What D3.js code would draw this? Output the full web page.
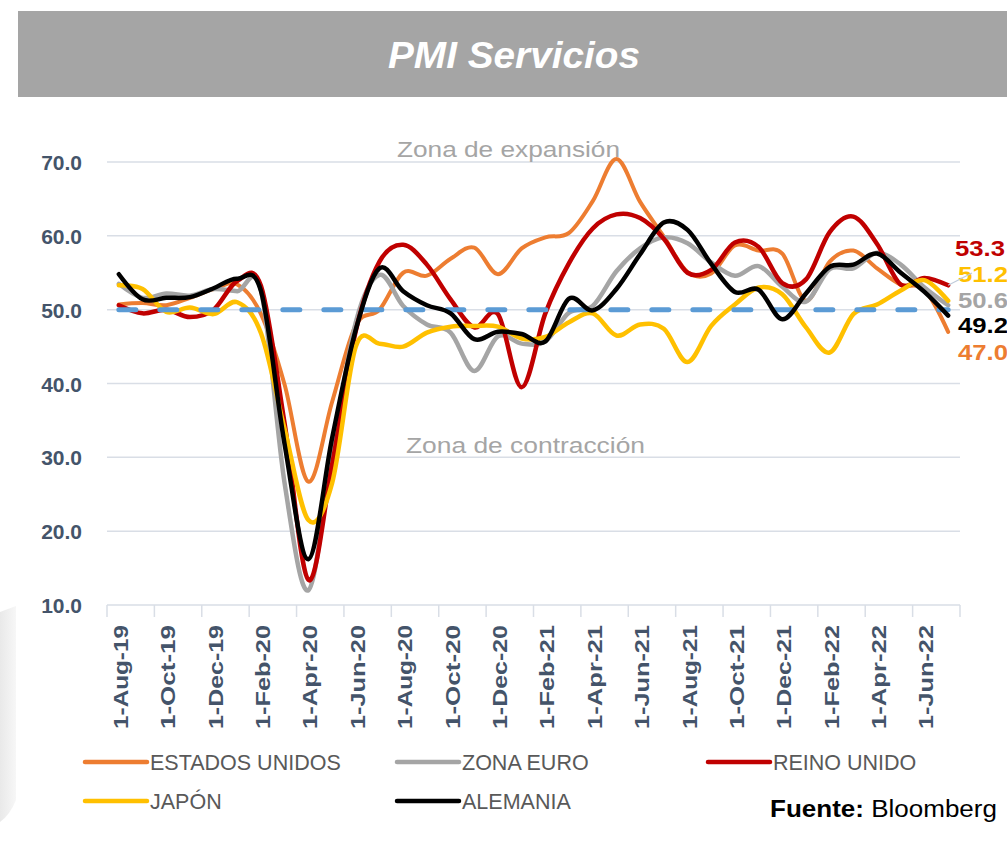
<!DOCTYPE html>
<html>
<head>
<meta charset="utf-8">
<script src="https://cdn.jsdelivr.net/npm/d3@7"></script>
<style>
  html, body { margin: 0; padding: 0; background: #ffffff; }
  svg { display: block; }
</style>
</head>
<body>
<div id="chart"></div>
<script>
// PMI Servicios (Bloomberg) - meses Aug-19 .. Jul-22
const months = [
  "1-Aug-19","1-Sep-19","1-Oct-19","1-Nov-19","1-Dec-19","1-Jan-20","1-Feb-20","1-Mar-20","1-Apr-20","1-May-20","1-Jun-20","1-Jul-20",
  "1-Aug-20","1-Sep-20","1-Oct-20","1-Nov-20","1-Dec-20","1-Jan-21","1-Feb-21","1-Mar-21","1-Apr-21","1-May-21","1-Jun-21","1-Jul-21",
  "1-Aug-21","1-Sep-21","1-Oct-21","1-Nov-21","1-Dec-21","1-Jan-22","1-Feb-22","1-Mar-22","1-Apr-22","1-May-22","1-Jun-22","1-Jul-22"
];

const estadosUnidos = [50.7,50.9,50.6,51.6,52.8,53.4,49.4,39.8,26.7,37.5,47.9,50.0,
  55.0,54.6,56.9,58.4,54.8,58.3,59.8,60.4,64.7,70.4,64.6,59.9,
  55.1,54.9,58.7,58.0,57.6,51.2,56.5,58.0,55.6,53.4,52.7,47.0];
const zonaEuro = [53.5,51.6,52.2,51.9,52.8,52.5,52.6,26.4,12.0,30.5,48.3,54.7,
  50.5,48.0,46.9,41.7,46.4,45.4,45.7,49.6,50.5,55.2,58.3,59.8,
  59.0,56.4,54.6,55.9,53.1,51.1,55.5,55.6,57.7,56.1,53.0,50.6];
const reinoUnido = [50.6,49.5,50.0,49.0,50.0,53.9,53.2,34.5,13.4,29.0,47.1,56.5,
  58.8,56.1,51.4,47.6,49.4,39.5,49.5,56.3,61.0,62.9,62.4,59.6,
  55.0,55.4,59.1,58.5,53.6,54.1,60.5,62.6,58.9,53.4,54.3,53.3];
const japon = [53.3,52.8,49.7,50.3,49.4,51.0,46.8,33.8,21.5,26.5,45.0,45.4,
  45.0,46.9,47.7,47.8,47.7,46.1,46.3,48.3,49.5,46.5,48.0,47.4,
  42.9,47.8,50.7,53.0,52.1,47.6,44.2,49.4,50.7,52.6,54.0,51.2];
const alemania = [54.8,51.4,51.6,51.7,52.9,54.2,52.5,31.7,16.2,32.6,47.3,55.6,
  52.5,50.6,49.5,46.0,47.0,46.7,45.7,51.5,49.9,52.8,57.5,61.8,
  60.8,56.2,52.4,52.7,48.7,52.2,55.8,56.1,57.6,55.0,52.4,49.2];

const umbral = 50; // linea de 50 (expansion / contraccion)
const yTicks = [10, 20, 30, 40, 50, 60, 70];

const seriesNames = ["ESTADOS UNIDOS", "ZONA EURO", "REINO UNIDO", "JAPÓN", "ALEMANIA"];
const seriesValues = [estadosUnidos, zonaEuro, reinoUnido, japon, alemania];
const seriesColors = ["#ED7D31", "#A5A5A5", "#C00000", "#FFC000", "#000000"];

// --- tamaño ---
const width = 1007, height = 842;
const plot = { left: 107, right: 960, top: 162, bottom: 605 };

const svg = d3.select("#chart").append("svg")
  .attr("width", width)
  .attr("height", height)
  .style("font-family", "'Liberation Sans', Arial, sans-serif");

// sombra suave a la izquierda (decoracion de la diapositiva)
const grad = svg.append("defs").append("linearGradient")
  .attr("id", "shade").attr("x1", 0).attr("x2", 1);
grad.append("stop").attr("offset", 0).attr("stop-color", "#e9e9e9");
grad.append("stop").attr("offset", 1).attr("stop-color", "#f7f7f7");
svg.append("path")
  .attr("d", "M0,612 L16,606 L16,800 Q10,815 0,822 Z")
  .attr("fill", "url(#shade)");

// --- titulo ---
svg.append("rect")
  .attr("x", 18).attr("y", 11)
  .attr("width", width - 18).attr("height", 86)
  .attr("fill", "#A5A5A5");

svg.append("text")
  .attr("x", 514).attr("y", 68)
  .attr("text-anchor", "middle")
  .attr("textLength", 252)
  .attr("lengthAdjust", "spacingAndGlyphs")
  .style("font-size", "37px")
  .style("font-weight", "bold")
  .style("font-style", "italic")
  .style("fill", "#ffffff")
  .text("PMI Servicios");

// --- escalas ---
const x = d3.scaleBand()
  .domain(months)
  .range([plot.left, plot.right]);
const cx = m => x(m) + x.bandwidth() / 2;

const y = d3.scaleLinear()
  .domain([10, 70])
  .range([plot.bottom, plot.top]);

// lineas de cuadricula
svg.append("g")
  .selectAll("line")
  .data(yTicks)
  .join("line")
  .attr("x1", plot.left).attr("x2", plot.right)
  .attr("y1", d => y(d)).attr("y2", d => y(d))
  .attr("stroke", "#D9DEE6")
  .attr("stroke-width", 1.5);

// eje Y (solo etiquetas)
const yAxis = svg.append("g")
  .attr("transform", `translate(${plot.left - 25},0)`)
  .call(d3.axisLeft(y).tickValues(yTicks).tickFormat(d3.format(".1f")).tickSize(0));
yAxis.select(".domain").remove();
yAxis.selectAll("text")
  .attr("x", 0)
  .attr("dy", "0.36em")
  .style("font-family", "'Liberation Sans', Arial, sans-serif")
  .style("font-size", "21px")
  .style("font-weight", "bold")
  .style("fill", "#44546A");

// eje X: marcas cada 2 meses
const tickMonths = months.filter((m, i) => i % 2 === 0);
svg.append("g")
  .selectAll("line")
  .data(tickMonths.map(m => x(m)).concat([plot.right]))
  .join("line")
  .attr("x1", d => d).attr("x2", d => d)
  .attr("y1", plot.bottom).attr("y2", plot.bottom + 12)
  .attr("stroke", "#D9DEE6")
  .attr("stroke-width", 1.5);

svg.append("g")
  .selectAll("text")
  .data(tickMonths)
  .join("text")
  .attr("transform", d => `translate(${cx(d) + 9},${plot.bottom + 20}) rotate(-90)`)
  .attr("text-anchor", "end")
  .attr("textLength", 104)
  .attr("lengthAdjust", "spacingAndGlyphs")
  .style("font-size", "21px")
  .style("font-weight", "bold")
  .style("fill", "#44546A")
  .text(d => d);

// zonas
svg.append("text")
  .attr("x", 397).attr("y", 157)
  .attr("textLength", 223)
  .attr("lengthAdjust", "spacingAndGlyphs")
  .style("font-size", "22px")
  .style("fill", "#A5A5A5")
  .text("Zona de expansión");

svg.append("text")
  .attr("x", 406).attr("y", 453)
  .attr("textLength", 239)
  .attr("lengthAdjust", "spacingAndGlyphs")
  .style("font-size", "22px")
  .style("fill", "#A5A5A5")
  .text("Zona de contracción");

// --- lineas suavizadas ---
const line = d3.line()
  .x((d, i) => cx(months[i]))
  .y(d => y(d))
  .curve(d3.curveCardinal.tension(0));

const lines = svg.append("g");
seriesValues.forEach((vals, s) => {
  if (s === 4) {
    // linea de 50 punteada antes de Alemania
    lines.append("path")
      .datum(months.map(() => umbral))
      .attr("d", line)
      .attr("fill", "none")
      .attr("stroke", "#5B9BD5")
      .attr("stroke-width", 5)
      .attr("stroke-linecap", "round")
      .attr("stroke-dasharray", "17 24");
  }
  lines.append("path")
    .datum(vals)
    .attr("d", line)
    .attr("fill", "none")
    .attr("stroke", seriesColors[s])
    .attr("stroke-width", s === 0 ? 4 : 4.5)
    .attr("stroke-linejoin", "round")
    .attr("stroke-linecap", "round");
});

// --- etiquetas del ultimo dato ---
const last = months[months.length - 1];
const labelOffsets = [20, -5, -37, -27, 10]; // separacion manual como en el original
const labelX = [958, 958, 955, 958, 958];
seriesValues.forEach((vals, s) => {
  const v = vals[vals.length - 1];
  svg.append("text")
    .attr("x", labelX[s])
    .attr("y", y(v) + labelOffsets[s])
    .attr("dy", "0.36em")
    .attr("textLength", 50)
    .attr("lengthAdjust", "spacingAndGlyphs")
    .style("font-size", "22px")
    .style("font-weight", "bold")
    .style("fill", seriesColors[s])
    .text(d3.format(".1f")(v));
});
// linea guia
svg.append("line")
  .attr("x1", cx(last)).attr("y1", y(reinoUnido[reinoUnido.length - 1]))
  .attr("x2", 972).attr("y2", 273)
  .attr("stroke", "#BFCBDA")
  .attr("stroke-width", 1.2);

// --- leyenda ---
const legendPos = [
  { x: 85, y: 762 }, { x: 397, y: 762 }, { x: 708, y: 762 },
  { x: 85, y: 801 }, { x: 397, y: 801 }
];
const legend = svg.append("g");
seriesNames.forEach((name, s) => {
  const p = legendPos[s];
  legend.append("line")
    .attr("x1", p.x).attr("x2", p.x + 62)
    .attr("y1", p.y).attr("y2", p.y)
    .attr("stroke", seriesColors[s])
    .attr("stroke-width", 4.5)
    .attr("stroke-linecap", "round");
  legend.append("text")
    .attr("x", p.x + 65)
    .attr("y", p.y + 8)
    .style("font-size", "21.5px")
    .style("fill", "#595959")
    .text(name);
});

// fuente
const fuente = svg.append("text")
  .attr("x", 770).attr("y", 817)
  .attr("textLength", 227)
  .attr("lengthAdjust", "spacingAndGlyphs")
  .style("font-size", "23px")
  .style("fill", "#000000");
fuente.append("tspan").style("font-weight", "bold").text("Fuente:");
fuente.append("tspan").text(" Bloomberg");
</script>
</body>
</html>
